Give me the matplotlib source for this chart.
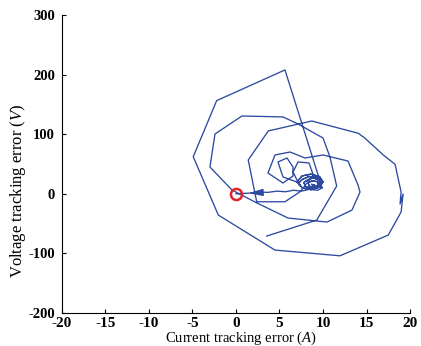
import matplotlib
matplotlib.use("Agg")
import matplotlib.pyplot as plt

plt.rcParams["font.family"] = ["Liberation Serif", "DejaVu Serif"]
plt.rcParams["mathtext.fontset"] = "custom"
plt.rcParams["mathtext.it"] = "Liberation Serif:italic"
plt.rcParams["mathtext.rm"] = "Liberation Serif"
plt.rcParams["axes.unicode_minus"] = False

# error trajectory, first transient (current error A, voltage error V)
start_x = [3.53, 9.28, 11.57, 10.80, 10.0, 7.13, 5.40, 0.69, -2.41, -2.87, -2.99,
           -0.46, 2.41, 5.98, 9.28, 10.46, 13.33, 14.25, 14.02, 12.87, 10.0, 7.93,
           6.21, 4.48, 3.68, 5.40, 6.55, 6.55, 5.86, 4.83, 5.40, 7.01]
start_y = [-70.8, -44.0, 13.1, 61.7, 93.6, 117.1, 128.9, 130.5, 100.3, 56.7, 45.0,
           6.4, -15.4, -40.6, -45.6, -47.3, -27.2, 3.0, 14.8, 55.0, 65.1, 60.1,
           70.1, 65.1, 34.9, 18.1, 29.9, 45.0, 60.1, 53.4, 28.2, 19.8]

# small converging rings near the operating point
cluster_x = [7.0, 7.6, 8.6, 9.6, 10.0, 9.6, 8.6, 7.6, 7.2,
             7.6, 8.4, 9.3, 9.8, 9.5, 8.7, 8.0, 7.8,
             8.2, 8.9, 9.6, 9.6, 9.0, 8.4, 8.3,
             8.8, 9.4, 9.4, 9.0, 8.7, 9.9]
cluster_y = [20, 30, 33, 29, 20, 11, 7, 10, 18,
             24, 29, 28, 20, 12, 9, 12, 19,
             23, 27, 22, 14, 10, 13, 19,
             22, 20, 14, 11, 16, 10]

# second, larger excursion spiralling back in
second_x = [5.63, -2.22, -4.91, -2.03, 4.48, 11.95, 17.5, 18.97, 19.2, 18.85,
            18.97, 18.28, 16.93, 14.83, 14.06, 8.70, 3.71, 1.41, 2.38, 5.63,
            7.36, 8.89, 8.39, 7.13, 6.55, 7.36]
second_y = [207.7, 156.2, 62.2, -35.6, -94.3, -103.9, -69.1, -30.5, -0.3, -17.1,
            3.0, 49.5, 65.1, 93.1, 101.5, 122.1, 105.4, 56.7, -13.3, -13.3,
            3.5, 31.5, 51.7, 53.4, 36.6, 13.1]

# final slide to the origin
approach_x = [9.4, 8.4, 7.5, 6.6, 5.7, 4.7, 3.7, 2.7, 1.6, 0.0]
approach_y = [6.0, 7.5, 4.5, 6.0, 3.5, 4.5, 2.5, 2.8, 1.2, 0.0]

path_x = start_x + cluster_x + second_x + cluster_x + approach_x
path_y = start_y + cluster_y + second_y + cluster_y + approach_y

line_color = "#2c4aa0"

fig = plt.figure(figsize=(4.21, 3.46), dpi=100)
ax = fig.add_axes([0.147, 0.095, 0.827, 0.862])

ax.plot(path_x, path_y, color=line_color, lw=0.95)
ax.annotate("", xy=(1.1, 0.9), xytext=(2.8, 2.1),
            arrowprops=dict(arrowstyle="-|>,head_length=0.9,head_width=0.22",
                            color=line_color, lw=0.8))
ax.plot([0], [0], "o", ms=8, mfc="none", mec="#e3222a", mew=1.8)

ax.set_xlim(-20, 20)
ax.set_ylim(-200, 300)
ax.set_xticks(range(-20, 21, 5))
ax.set_yticks(range(-200, 301, 100))

for side in ("top", "right"):
    ax.spines[side].set_visible(False)
for side in ("left", "bottom"):
    ax.spines[side].set_linewidth(0.8)
ax.tick_params(direction="in", length=3, width=0.8)
ax.tick_params(axis="y", pad=5, labelsize=10.5)
ax.tick_params(axis="x", pad=3, labelsize=11)
for lbl in ax.get_xticklabels() + ax.get_yticklabels():
    lbl.set_fontweight("bold")

ax.set_xlabel("Current tracking error ($A$)", fontsize=10.5)
ax.set_ylabel("Voltage tracking error ($V$)", fontsize=12)
ax.xaxis.set_label_coords(0.514, -0.054)
ax.yaxis.set_label_coords(-0.098, 0.41)

fig.savefig("out.png", dpi=100)
